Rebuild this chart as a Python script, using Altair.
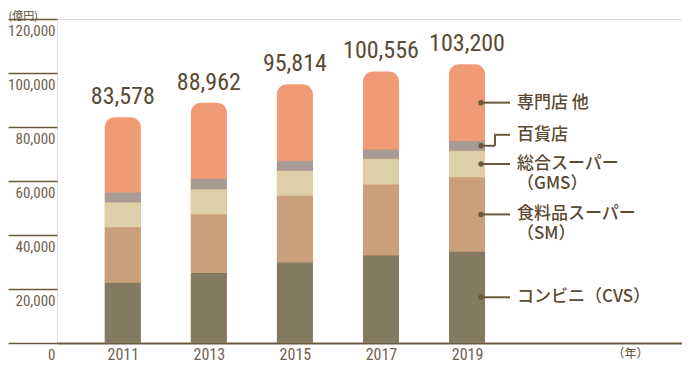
import altair as alt
import pandas as pd

# ---- data (億円) ----
years = [2011, 2013, 2015, 2017, 2019]
totals = [83578, 88962, 95814, 100556, 103200]
cvs = [22450, 25950, 29910, 32540, 33870]          # コンビニ（CVS）
sm = [20430, 21730, 24610, 26200, 27500]           # 食料品スーパー（SM）
gms = [9260, 9260, 9260, 9480, 9870]               # 総合スーパー（GMS）
dept = [3600, 3850, 3720, 3490, 3600]              # 百貨店
specialty = [27838, 28172, 28314, 28846, 28360]    # 専門店 他

seg_keys = ["cvs", "sm", "gms", "dept", "spec"]
seg_vals = [cvs, sm, gms, dept, specialty]
seg_colors = ["#847961", "#c9a07b", "#ddd0a9", "#a89b93", "#f19a76"]
seg_line1 = ["コンビニ（CVS）", "食料品スーパー", "総合スーパー", "百貨店", "専門店 他"]
seg_line2 = ["", "（SM）", "（GMS）", "", ""]
y_ticks = [0, 20000, 40000, 60000, 80000, 100000, 120000]

TXT = "#5a4a33"
LINE = "#6b5a3e"
NARROW = ("Roboto Condensed, Liberation Sans Narrow, DejaVu Sans Condensed, "
          "Noto Sans Condensed, Open Sans Condensed, Roboto, sans-serif")
JP = "Noto Sans CJK JP"

rows = []
for i, yr in enumerate(years):
    base = 0
    for k, vals in zip(seg_keys, seg_vals):
        rows.append({"year": yr, "seg": k, "y0": base, "y1": base + vals[i]})
        base += vals[i]
seg_df = pd.DataFrame(rows)
tot_df = pd.DataFrame({"year": years, "total": totals,
                       "label": [f"{t:,}" for t in totals]})

# legend anchored at the 2019 bar
last = seg_df[seg_df.year == years[-1]].set_index("seg")
leg_df = pd.DataFrame({
    "seg": seg_keys,
    "lx": [years[-1]] * 5,
    "mid": [(last.loc[k, "y0"] + last.loc[k, "y1"]) / 2 for k in seg_keys],
    "line1": seg_line1,
    "line2": seg_line2,
})

xs = alt.Scale(domain=[2009.471, 2023.996], nice=False, zero=False, padding=0)
ys = alt.Scale(domain=[0, 120000], nice=False, zero=True, padding=0)
x_axis = alt.Axis(values=years, labelExpr="'' + datum.value", title="（年）", grid=False,
                  ticks=False, domain=True, domainColor=LINE, domainWidth=2,
                  labelFont=NARROW, labelFontSize=16, labelColor="#6e6150",
                  labelPadding=3, titleFont=JP, titleFontSize=12,
                  titleFontWeight="normal", titleColor=TXT,
                  titleAnchor="start", titleX=573, titleY=5, titleAlign="center",
                  titleBaseline="top")
y_axis = alt.Axis(values=y_ticks, labelExpr="format(datum.value, ',')", title="(億円)",
                  grid=False, domain=False, ticks=True, tickSize=49, tickColor=LINE,
                  tickWidth=1.5, labelAlign="right", labelBaseline="top",
                  labelPadding=-47, labelOffset=4, labelFont=NARROW,
                  labelFontSize=15, labelColor="#6e6150",
                  titleAngle=0, titleAlign="left", titleBaseline="top",
                  titleX=-49, titleY=-9, titleFont=JP, titleFontSize=11,
                  titleFontWeight="normal", titleColor=TXT)

def XN(f):
    return alt.X(f, scale=xs, axis=x_axis)

def YN(f):
    return alt.Y(f, scale=ys, axis=y_axis)

color = alt.Color("seg:N", scale=alt.Scale(domain=seg_keys, range=seg_colors), legend=None)

# full-height rounded bar (top segment colour) underneath the lower segments
top_bar = alt.Chart(tot_df).mark_bar(width=36, cornerRadiusTopLeft=10,
                                     cornerRadiusTopRight=10, color=seg_colors[-1]).encode(
    x=XN("year:Q"), y=YN("total:Q"), y2=alt.datum(0))

low_bars = alt.Chart(seg_df).transform_filter(alt.datum.seg != "spec").mark_bar(width=36).encode(
    x=XN("year:Q"), y=YN("y0:Q"), y2="y1:Q", color=color)

tot_text = alt.Chart(tot_df).mark_text(baseline="bottom", dy=-8, font=NARROW,
                                       fontSize=24, color=TXT).encode(
    x=XN("year:Q"), y=YN("total:Q"), text="label:N")

LX = XN("lx:Q")
LY = YN("mid:Q")
leg = alt.Chart(leg_df)
dots = leg.mark_point(filled=True, size=30, color=LINE, opacity=1, xOffset=14).encode(x=LX, y=LY)
straight = leg.transform_filter(alt.datum.seg != "dept").mark_rule(
    color=LINE, strokeWidth=2, xOffset=14, x2Offset=43).encode(x=LX, x2="lx:Q", y=LY)
el_a = leg.transform_filter(alt.datum.seg == "dept").mark_rule(
    color=LINE, strokeWidth=2, xOffset=14, x2Offset=28).encode(x=LX, x2="lx:Q", y=LY)
el_b = leg.transform_filter(alt.datum.seg == "dept").mark_rule(
    color=LINE, strokeWidth=2, xOffset=28, y2Offset=-11).encode(x=LX, y=LY, y2="mid:Q")
el_c = leg.transform_filter(alt.datum.seg == "dept").mark_rule(
    color=LINE, strokeWidth=2, xOffset=27, x2Offset=43, yOffset=-11, y2Offset=-11).encode(
    x=LX, x2="lx:Q", y=LY)
txt1 = leg.transform_filter(alt.datum.seg != "dept").mark_text(
    align="left", baseline="middle", dx=50, font=JP, fontSize=17, fontWeight=500,
    color=TXT).encode(x=LX, y=LY, text="line1:N")
txt_dept = leg.transform_filter(alt.datum.seg == "dept").mark_text(
    align="left", baseline="middle", dx=50, dy=-11, font=JP, fontSize=17, fontWeight=500,
    color=TXT).encode(x=LX, y=LY, text="line1:N")
txt2 = leg.transform_filter(alt.datum.line2 != "").mark_text(
    align="left", baseline="middle", dx=50, dy=20, font=JP, fontSize=17, fontWeight=500,
    color=TXT).encode(x=LX, y=LY, text="line2:N")

chart = alt.layer(top_bar, low_bars, tot_text, dots, straight, el_a, el_b, el_c,
                  txt1, txt_dept, txt2).properties(
    width=625, height=324,
    autosize=alt.AutoSizeParams(type="none"),
    padding={"left": 49, "top": 11, "right": 0, "bottom": 20},
).configure_view(strokeWidth=0, stroke="transparent").configure(background="white")

chart.save("out.html", embed_options={"renderer": "svg", "actions": False})
